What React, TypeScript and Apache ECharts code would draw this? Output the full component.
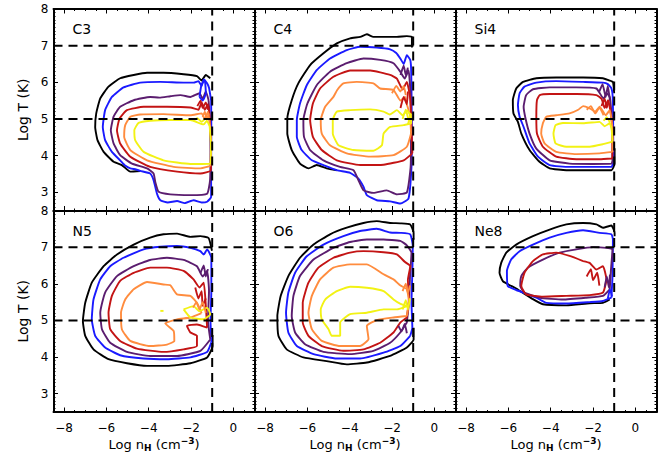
import React, { useEffect, useRef } from 'react';
import * as echarts from 'echarts';

// ---------- axes ----------
const X_MIN = -8.5;
const X_MAX = 1;
const Y_MIN = 2.5;
const Y_MAX = 8;
const xMajorTicks = [-8, -6, -4, -2, 0];
const yMajorTicks = [3, 4, 5, 6, 7, 8];
const dashedLogT = [5, 7];
const dashedLogN = [-1];

// contour level colours, outermost -> innermost
const levelColors = ['#000000', '#1a1aff', '#5b1d6f', '#c31414', '#ff8c3e', '#f2f214'];

// ---------- C3 ----------
const c3Black = [[-1.09,6.11],[-1.3,6.2],[-1.5,6.05],[-1.72,6.17],[-2.35,6.22],[-3.3,6.26],[-4.08,6.26],[-4.71,6.2],[-5.35,6.11],[-5.9,5.88],[-6.29,5.56],[-6.48,5.15],[-6.53,4.78],[-6.42,4.42],[-6.13,4.1],[-5.66,3.83],[-5.27,3.74],[-4.87,3.56],[-4.4,3.58]];
const c3Blue = [[-1.05,5.5],[-1.15,5.85],[-1.24,5.97],[-1.4,6.08],[-1.5,5.9],[-1.65,6.03],[-1.88,5.99],[-2.35,5.99],[-3.45,6.01],[-4.4,5.99],[-5.19,5.86],[-5.74,5.6],[-6.06,5.24],[-6.17,4.78],[-6.06,4.42],[-5.74,4.1],[-5.35,3.87],[-5.1,3.72],[-4.87,3.65],[-4.6,3.62],[-4.4,3.58],[-3.93,3.51],[-3.77,3.33],[-3.61,2.96],[-3.45,2.78],[-3.1,2.72],[-2.66,2.76],[-2.3,2.7],[-1.88,2.78],[-1.5,2.72],[-1.24,2.74],[-1.05,2.87],[-1.05,3.69],[-1.04,4.78],[-1.05,5.5]];
const c3Purple = [[-1.17,5.51],[-1.3,5.75],[-1.45,5.55],[-1.6,5.7],[-2.03,5.6],[-2.5,5.65],[-2.98,5.62],[-3.5,5.58],[-3.93,5.6],[-4.71,5.51],[-5.35,5.33],[-5.66,5.06],[-5.79,4.69],[-5.66,4.33],[-5.35,4.01],[-4.79,3.78],[-4.08,3.65],[-3.77,3.51],[-3.69,3.28],[-3.53,3.01],[-2.98,2.94],[-2.03,2.92],[-1.24,2.96],[-1.1,3.33],[-1.08,4.15],[-1.12,5.06],[-1.17,5.51]];
const c3Red = [[-1.12,5.06],[-1.2,5.4],[-1.35,5.25],[-1.5,5.45],[-1.65,5.25],[-2.03,5.31],[-3.14,5.33],[-4.24,5.33],[-5.03,5.24],[-5.38,5.01],[-5.5,4.69],[-5.35,4.33],[-4.87,3.97],[-3.93,3.69],[-2.66,3.56],[-1.56,3.51],[-1.06,3.6],[-1.06,4.42],[-1.12,5.06]];
const c3Orange = [[-1.12,4.9],[-1.2,5.2],[-1.35,5.0],[-1.5,5.15],[-2.03,5.1],[-3.3,5.13],[-4.4,5.12],[-4.87,5.06],[-5.11,4.83],[-5.16,4.51],[-4.87,4.15],[-4.08,3.87],[-2.82,3.69],[-1.56,3.65],[-1.08,3.74],[-1.06,4.42],[-1.12,4.9]];
const c3Yellow = [[-1.12,4.8],[-1.25,4.95],[-1.4,4.85],[-2.03,4.97],[-2.98,4.97],[-3.93,4.95],[-4.48,4.89],[-4.68,4.69],[-4.64,4.42],[-4.24,4.1],[-3.3,3.87],[-2.03,3.77],[-1.1,3.78],[-1.06,4.3],[-1.12,4.8]];
const c3NoiseBlue = [[-1.6,5.6],[-1.5,5.95],[-1.35,6.05],[-1.3,5.7],[-1.45,5.5],[-1.6,5.6]];
const c3NoiseRed = [[-1.7,5.35],[-1.55,5.5],[-1.45,5.3],[-1.3,5.45],[-1.2,5.25]];
const c3NoiseOrange = [[-1.45,5.05],[-1.35,5.2],[-1.25,5.0],[-1.15,5.15]];
const c3NoiseYellow = [[-1.9,4.95],[-1.7,5.02],[-1.5,4.92],[-1.35,5.0]];

// ---------- C4 ----------
const c4Black = [[-1.06,6.95],[-1.06,7.24],[-1.3,7.26],[-1.77,7.24],[-2.88,7.24],[-3.19,7.31],[-3.5,7.24],[-3.98,7.2],[-4.61,7.06],[-5.24,6.79],[-5.87,6.47],[-6.43,5.97],[-6.74,5.51],[-6.95,5.01],[-6.95,4.6],[-6.74,4.15],[-6.35,3.78],[-5.95,3.65],[-5.56,3.74],[-5.09,3.65],[-4.61,3.6]];
const c4Blue = [[-1.06,4.6],[-1.08,5.8],[-1.1,6.4],[-1.14,6.61],[-1.3,6.74],[-1.45,6.5],[-1.61,6.65],[-1.8,6.8],[-2.09,6.9],[-2.72,6.95],[-3.5,6.97],[-4.14,6.88],[-4.93,6.65],[-5.56,6.33],[-6.03,5.92],[-6.35,5.42],[-6.5,4.97],[-6.5,4.51],[-6.27,4.15],[-5.79,3.87],[-5.24,3.74],[-4.61,3.6],[-3.98,3.53],[-3.59,3.37],[-3.35,3.15],[-3.19,2.92],[-2.72,2.78],[-2.09,2.75],[-1.61,2.69],[-1.22,2.83],[-1.08,3.69],[-1.06,4.6]];
const c4Purple = [[-1.1,4.6],[-1.12,5.6],[-1.22,6.33],[-1.4,6.1],[-1.61,6.29],[-1.93,6.52],[-2.56,6.61],[-3.35,6.65],[-4.14,6.52],[-4.93,6.29],[-5.56,5.92],[-6.0,5.42],[-6.19,4.97],[-6.16,4.51],[-5.87,4.15],[-5.24,3.87],[-4.46,3.69],[-3.82,3.6],[-3.59,3.33],[-3.35,3.05],[-2.88,2.98],[-2.25,3.05],[-1.77,2.94],[-1.3,2.99],[-1.12,3.69],[-1.1,4.6]];
const c4Red = [[-1.04,4.06],[-1.08,4.8],[-1.15,5.6],[-1.3,6.01],[-1.5,5.8],[-1.77,6.1],[-2.09,6.2],[-3.03,6.32],[-3.98,6.32],[-4.77,6.15],[-5.4,5.83],[-5.74,5.42],[-5.87,4.97],[-5.74,4.51],[-5.32,4.15],[-4.61,3.87],[-3.5,3.74],[-2.4,3.75],[-1.45,3.87],[-1.04,4.06]];
const c4Orange = [[-1.1,4.6],[-1.15,5.1],[-1.3,5.4],[-1.38,5.6],[-1.6,5.5],[-1.93,5.79],[-2.56,5.83],[-2.88,5.97],[-3.67,6.01],[-4.3,5.97],[-4.59,5.79],[-4.77,5.6],[-5.16,5.33],[-5.37,4.97],[-5.32,4.6],[-4.93,4.28],[-4.14,4.06],[-3.03,3.97],[-1.93,4.01],[-1.3,4.24],[-1.1,4.6]];
const c4Yellow = [[-1.3,5.24],[-1.5,5.1],[-1.77,5.24],[-2.1,5.12],[-2.4,5.2],[-3.03,5.26],[-3.98,5.24],[-4.61,5.2],[-4.8,4.97],[-4.8,4.6],[-4.53,4.28],[-3.82,4.15],[-2.88,4.13],[-2.48,4.28],[-2.4,4.6],[-2.09,4.78],[-1.45,4.83],[-1.1,4.88],[-1.12,5.1],[-1.3,5.24]];
const c4NoisePurple = [[-1.6,6.2],[-1.45,6.45],[-1.35,6.2],[-1.25,6.4]];
const c4NoiseRed = [[-1.6,5.3],[-1.45,5.6],[-1.3,5.4],[-1.25,5.75]];
const c4NoiseOrange = [[-2.0,5.7],[-1.8,5.9],[-1.6,5.75],[-1.45,5.9],[-1.35,5.65]];
const c4NoiseYellow = [[-1.5,5.0],[-1.35,5.25],[-1.2,4.95],[-1.1,5.15],[-1.25,4.85]];

// ---------- Si4 ----------
const si4Black = [[-1.0,5.7],[-1.06,6.01],[-1.25,6.05],[-1.53,6.11],[-2.47,6.13],[-3.74,6.13],[-4.68,6.11],[-5.31,6.01],[-5.63,5.83],[-5.79,5.51],[-5.76,5.15],[-5.55,4.92],[-5.39,4.6],[-5.0,4.15],[-4.53,3.83],[-4.05,3.65],[-3.26,3.6],[-2.16,3.6],[-1.13,3.6],[-0.98,3.78],[-0.98,4.2]];
const si4Blue = [[-1.04,3.8],[-1.05,5.0],[-1.07,5.6],[-1.13,5.83],[-1.3,5.95],[-1.53,5.99],[-2.47,6.01],[-3.74,6.03],[-4.68,5.99],[-5.24,5.88],[-5.47,5.7],[-5.55,5.38],[-5.47,5.06],[-5.28,4.78],[-5.0,4.33],[-4.6,3.97],[-4.05,3.74],[-3.11,3.69],[-2.0,3.69],[-1.13,3.69],[-1.04,3.8]];
const si4Purple = [[-1.08,3.85],[-1.08,4.6],[-1.15,5.3],[-1.21,5.6],[-1.35,5.7],[-1.5,5.55],[-1.84,5.83],[-2.79,5.86],[-4.05,5.86],[-4.84,5.81],[-5.16,5.65],[-5.28,5.33],[-5.19,5.01],[-5.0,4.6],[-4.68,4.19],[-4.05,3.87],[-3.11,3.78],[-2.0,3.77],[-1.13,3.78],[-1.08,3.85]];
const si4Red = [[-1.09,3.92],[-1.08,4.6],[-1.15,5.1],[-1.29,5.51],[-1.45,5.3],[-1.6,5.55],[-1.84,5.65],[-2.79,5.68],[-4.05,5.68],[-4.52,5.65],[-4.65,5.51],[-4.68,5.06],[-4.65,4.6],[-4.37,4.24],[-3.74,3.97],[-2.79,3.9],[-1.69,3.9],[-1.09,3.92]];
const si4Orange = [[-1.08,4.1],[-1.08,4.7],[-1.21,5.24],[-1.4,5.1],[-1.69,5.33],[-1.9,5.2],[-2.16,5.29],[-2.47,5.35],[-2.7,5.25],[-3.11,5.15],[-3.74,5.1],[-4.21,5.06],[-4.37,4.88],[-4.45,4.6],[-4.29,4.33],[-3.74,4.1],[-2.79,4.04],[-1.69,4.06],[-1.08,4.1]];
const si4Yellow = [[-1.08,4.38],[-1.12,4.7],[-1.21,4.88],[-1.45,4.8],[-1.69,4.92],[-2.47,4.88],[-3.42,4.89],[-3.77,4.83],[-3.87,4.6],[-3.77,4.33],[-3.26,4.24],[-2.16,4.24],[-1.53,4.31],[-1.08,4.38]];
const si4NoisePurple = [[-1.7,5.75],[-1.55,5.95],[-1.4,5.6],[-1.3,5.9],[-1.2,5.5]];
const si4NoiseRed = [[-1.6,5.35],[-1.45,5.55],[-1.35,5.3],[-1.25,5.5]];
const si4NoiseOrange = [[-2.3,5.25],[-2.1,5.35],[-1.9,5.15],[-1.7,5.3],[-1.5,5.1]];
const si4NoiseYellow = [[-1.5,4.95],[-1.35,5.05],[-1.2,4.9]];

// ---------- N5 ----------
const n5Black = [[-1.01,6.9],[-1.17,7.25],[-1.56,7.3],[-2.03,7.28],[-2.66,7.37],[-3.3,7.35],[-3.93,7.26],[-4.71,7.07],[-5.5,6.8],[-6.13,6.48],[-6.69,6.03],[-7.0,5.48],[-7.11,4.98],[-7.0,4.58],[-6.61,4.21],[-5.9,3.94],[-5.03,3.83],[-4.08,3.76],[-3.14,3.76],[-2.03,3.83],[-1.24,3.99],[-0.98,4.3],[-0.98,4.6]];
const n5Blue = [[-1.04,4.4],[-1.08,5.0],[-1.04,5.8],[-1.04,6.71],[-1.24,6.94],[-1.4,6.8],[-1.56,6.89],[-2.03,6.98],[-2.66,7.03],[-3.45,7.01],[-4.24,6.94],[-5.19,6.71],[-5.82,6.48],[-6.29,6.12],[-6.61,5.57],[-6.69,5.03],[-6.53,4.58],[-6.06,4.26],[-5.35,4.05],[-4.24,3.96],[-3.14,3.94],[-2.03,3.99],[-1.24,4.14],[-1.04,4.4]];
const n5Purple = [[-1.09,4.48],[-1.2,5.0],[-1.15,5.8],[-1.24,6.35],[-1.45,6.2],[-1.72,6.48],[-2.35,6.65],[-3.14,6.71],[-3.93,6.65],[-4.71,6.48],[-5.5,6.21],[-6.06,5.76],[-6.29,5.21],[-6.21,4.76],[-5.82,4.39],[-5.03,4.14],[-3.93,4.03],[-2.66,4.03],[-1.56,4.17],[-1.09,4.48]];
const n5Red = [[-1.24,4.8],[-1.3,5.4],[-1.4,6.03],[-1.6,5.9],[-1.88,6.12],[-2.35,6.35],[-3.14,6.44],[-3.93,6.44],[-4.71,6.3],[-5.35,6.08],[-5.74,5.67],[-5.9,5.21],[-5.82,4.76],[-5.35,4.44],[-4.56,4.23],[-3.3,4.14],[-2.35,4.21],[-1.72,4.3],[-1.72,4.58],[-2.03,4.67],[-2.19,4.85],[-1.72,4.89],[-1.24,4.8]];
const n5Orange = [[-1.5,5.2],[-1.72,5.48],[-2.03,5.67],[-2.66,5.71],[-2.98,5.96],[-3.3,5.98],[-4.08,6.05],[-4.71,5.85],[-5.11,5.57],[-5.31,5.21],[-5.27,4.76],[-4.87,4.44],[-3.93,4.3],[-3.14,4.34],[-2.79,4.44],[-2.82,4.71],[-3.22,4.92],[-2.66,5.03],[-2.03,5.08],[-1.5,5.2]];
const n5YellowA = [[-2.35,5.3],[-1.88,5.39],[-1.6,5.25],[-1.24,5.35],[-1.09,5.17],[-1.4,5.03],[-2.03,5.08],[-2.35,5.3]];
const n5YellowB = [[-3.45,5.26],[-3.3,5.26]];
const n5NoisePurple = [[-1.55,6.3],[-1.4,6.5],[-1.3,6.2],[-1.2,6.4]];
const n5NoiseRed = [[-1.8,5.9],[-1.65,5.6],[-1.5,5.8],[-1.45,5.4],[-1.3,5.6]];
const n5NoiseOrange = [[-1.9,5.35],[-1.75,5.5],[-1.6,5.3],[-1.45,5.5],[-1.3,5.2]];

// ---------- O6 ----------
const o6Black = [[-0.98,7.2],[-0.98,7.39],[-1.14,7.62],[-1.61,7.65],[-2.09,7.66],[-2.72,7.71],[-3.35,7.66],[-4.14,7.53],[-4.93,7.35],[-5.71,7.07],[-6.35,6.71],[-6.9,6.21],[-7.26,5.67],[-7.42,5.12],[-7.37,4.58],[-6.98,4.21],[-6.19,3.99],[-5.09,3.89],[-4.14,3.8],[-3.19,3.85],[-2.09,4.03],[-1.3,4.26],[-0.98,4.48],[-0.98,4.8]];
const o6Blue = [[-1.14,4.58],[-1.04,4.8],[-1.08,5.5],[-1.04,6.3],[-1.02,7.03],[-1.14,7.35],[-1.61,7.39],[-2.09,7.4],[-2.72,7.5],[-3.51,7.44],[-4.3,7.3],[-5.24,7.07],[-6.03,6.75],[-6.58,6.3],[-6.9,5.76],[-7.01,5.21],[-6.9,4.67],[-6.5,4.3],[-5.71,4.08],[-4.61,3.96],[-3.51,3.96],[-2.4,4.12],[-1.61,4.3],[-1.14,4.58]];
const o6Purple = [[-1.3,4.94],[-1.2,5.5],[-1.15,6.2],[-1.08,6.85],[-1.3,7.05],[-1.61,7.17],[-2.4,7.21],[-3.19,7.21],[-3.98,7.14],[-4.77,6.98],[-5.71,6.66],[-6.35,6.21],[-6.66,5.67],[-6.74,5.12],[-6.58,4.67],[-6.11,4.35],[-5.24,4.14],[-3.98,4.08],[-2.88,4.17],[-2.09,4.39],[-1.61,4.67],[-1.3,4.94]];
const o6Red = [[-1.3,5.08],[-1.2,5.6],[-1.25,6.1],[-1.14,6.48],[-1.4,6.6],[-1.77,6.8],[-2.4,6.86],[-3.35,6.89],[-3.98,6.85],[-4.77,6.71],[-5.48,6.44],[-5.95,6.03],[-6.22,5.48],[-6.22,4.94],[-5.95,4.58],[-5.32,4.3],[-4.3,4.17],[-3.35,4.21],[-2.56,4.39],[-1.93,4.67],[-1.61,4.94],[-1.3,5.08]];
const o6Orange = [[-1.3,5.12],[-1.2,5.5],[-1.3,5.85],[-1.6,5.95],[-1.93,6.12],[-2.4,6.26],[-3.19,6.53],[-3.98,6.53],[-4.77,6.44],[-5.4,6.12],[-5.79,5.67],[-5.95,5.21],[-5.79,4.76],[-5.32,4.44],[-4.45,4.3],[-3.51,4.3],[-3.11,4.49],[-3.19,4.85],[-2.72,5.01],[-1.93,5.08],[-1.3,5.12]];
const o6Yellow = [[-1.3,5.39],[-1.6,5.45],[-1.93,5.57],[-2.4,5.8],[-3.19,5.89],[-3.98,5.92],[-4.61,5.8],[-5.16,5.57],[-5.37,5.3],[-5.32,5.03],[-5.0,4.76],[-4.85,4.58],[-4.45,4.58],[-4.45,4.94],[-3.98,5.17],[-3.19,5.21],[-2.4,5.3],[-1.77,5.3],[-1.3,5.39]];
const o6NoisePurple = [[-1.7,4.85],[-1.55,4.7],[-1.4,4.9],[-1.3,4.65]];
const o6NoiseOrange = [[-1.5,5.8],[-1.35,6.0],[-1.25,5.75],[-1.15,5.95]];
const o6NoiseYellow = [[-1.5,5.3],[-1.35,5.55],[-1.25,5.3],[-1.15,5.6]];

// ---------- Ne8 ----------
const ne8Black = [[-0.98,7.3],[-0.98,7.39],[-1.13,7.59],[-1.53,7.53],[-1.84,7.62],[-2.47,7.66],[-3.26,7.62],[-4.05,7.48],[-4.84,7.3],[-5.63,7.07],[-6.1,6.85],[-6.34,6.57],[-6.42,6.3],[-6.26,6.07],[-5.63,5.87],[-4.84,5.58],[-4.37,5.44],[-3.26,5.41],[-2.16,5.47],[-1.53,5.48],[-1.21,5.57]];
const ne8Blue = [[-1.13,5.62],[-1.08,6.2],[-1.06,7.21],[-1.13,7.35],[-1.69,7.39],[-2.47,7.46],[-3.26,7.39],[-4.05,7.26],[-4.84,7.07],[-5.47,6.89],[-5.87,6.66],[-6.07,6.35],[-6.03,5.94],[-5.63,5.83],[-4.68,5.62],[-4.21,5.48],[-3.26,5.46],[-2.16,5.5],[-1.53,5.53],[-1.13,5.62]];
const ne8Purple = [[-1.21,5.85],[-1.15,6.4],[-1.08,6.94],[-1.37,6.98],[-2.0,7.0],[-2.79,6.94],[-3.58,6.85],[-4.37,6.66],[-5.08,6.44],[-5.39,6.21],[-5.44,5.94],[-5.24,5.76],[-4.52,5.62],[-3.42,5.57],[-2.32,5.62],[-1.53,5.67],[-1.21,5.85]];
const ne8Red = [[-2.47,6.62],[-3.11,6.76],[-3.74,6.85],[-4.37,6.8],[-4.84,6.62],[-5.24,6.3],[-5.39,5.94],[-5.16,5.71],[-4.37,5.65],[-3.26,5.67],[-2.16,5.69],[-1.53,5.76],[-1.37,6.12],[-1.53,6.48],[-1.84,6.39],[-2.16,6.57],[-2.47,6.62]];
const ne8NoiseBlue = [[-1.3,5.6],[-1.2,5.85],[-1.1,5.65]];
const ne8NoisePurple = [[-1.45,5.9],[-1.35,6.2],[-1.25,5.9],[-1.2,6.25]];
const ne8NoiseRed = [[-2.3,6.2],[-2.1,6.4],[-2.0,6.1],[-1.8,6.3],[-1.7,5.95]];

const panelNames = ['C3', 'C4', 'Si4', 'N5', 'O6', 'Ne8'];
// [contour, colour level index]
const panelContours: [number[][], number][][] = [
  [[c3Black, 0], [c3Blue, 1], [c3Purple, 2], [c3Red, 3], [c3Orange, 4], [c3Yellow, 5],
   [c3NoiseBlue, 1], [c3NoiseRed, 3], [c3NoiseOrange, 4], [c3NoiseYellow, 5]],
  [[c4Black, 0], [c4Blue, 1], [c4Purple, 2], [c4Red, 3], [c4Orange, 4], [c4Yellow, 5],
   [c4NoisePurple, 2], [c4NoiseRed, 3], [c4NoiseOrange, 4], [c4NoiseYellow, 5]],
  [[si4Black, 0], [si4Blue, 1], [si4Purple, 2], [si4Red, 3], [si4Orange, 4], [si4Yellow, 5],
   [si4NoisePurple, 2], [si4NoiseRed, 3], [si4NoiseOrange, 4], [si4NoiseYellow, 5]],
  [[n5Black, 0], [n5Blue, 1], [n5Purple, 2], [n5Red, 3], [n5Orange, 4], [n5YellowA, 5], [n5YellowB, 5],
   [n5NoisePurple, 2], [n5NoiseRed, 3], [n5NoiseOrange, 4]],
  [[o6Black, 0], [o6Blue, 1], [o6Purple, 2], [o6Red, 3], [o6Orange, 4], [o6Yellow, 5],
   [o6NoisePurple, 2], [o6NoiseOrange, 4], [o6NoiseYellow, 5]],
  [[ne8Black, 0], [ne8Blue, 1], [ne8Purple, 2], [ne8Red, 3],
   [ne8NoiseBlue, 1], [ne8NoisePurple, 2], [ne8NoiseRed, 3]],
];

const FONT = 'DejaVu Sans, Verdana, sans-serif';
const colLefts = [53.5, 254.5, 455.5];
const rowTops = [9, 210.5];
const PW = 201;
const PH = 201.5;

const fmtX = (v: number) => (v < 0 ? '\u2212' + Math.abs(v) : String(v));

function buildOption() {
  const grid: any[] = [];
  const xAxis: any[] = [];
  const yAxis: any[] = [];
  const series: any[] = [];
  const graphic: any[] = [];
  const lineBlack = { color: '#000', width: 1 };

  for (let p = 0; p < 6; p++) {
    const row = Math.floor(p / 3);
    const col = p % 3;
    grid.push({
      left: colLefts[col], top: rowTops[row], width: PW, height: PH,
      containLabel: false, outerBoundsMode: 'none', show: false,
    });
    const bottomRow = row === 1;
    const leftCol = col === 0;
    const xb = {
      type: 'value', gridIndex: p, min: X_MIN, max: X_MAX,
      splitLine: { show: false }, axisLabel: { show: false },
    };
    xAxis.push({
      ...xb, position: 'bottom', interval: 0.5,
      axisLine: { show: true, onZero: false, lineStyle: { color: '#000', width: 2 } },
      axisTick: { show: true, inside: true, length: 2, lineStyle: lineBlack },
    });
    xAxis.push({
      ...xb, position: 'bottom',
      axisLine: { show: false, onZero: false },
      axisTick: { show: true, inside: true, length: 4.5, customValues: xMajorTicks, lineStyle: lineBlack },
      axisLabel: {
        show: bottomRow, customValues: xMajorTicks, formatter: fmtX, margin: 10,
        fontSize: 12, color: '#000', fontFamily: FONT,
      },
      name: bottomRow ? 'Log n{sub|H} (cm{sup|\u22123})' : '',
      nameLocation: 'middle', nameGap: 24, nameMoveOverlap: false,
      nameTextStyle: {
        fontSize: 13, color: '#000', fontFamily: FONT, lineHeight: 16,
        rich: {
          sub: { fontSize: 9, fontWeight: 'bold', color: '#000', fontFamily: FONT, lineHeight: 10, verticalAlign: 'bottom' },
          sup: { fontSize: 9, fontWeight: 'bold', color: '#000', fontFamily: FONT, lineHeight: 10, verticalAlign: 'top' },
        },
      },
    });
    xAxis.push({
      ...xb, position: 'top', interval: 0.5,
      axisLine: { show: true, onZero: false, lineStyle: { color: '#000', width: 2 } },
      axisTick: { show: true, inside: true, length: 2, lineStyle: lineBlack },
    });
    xAxis.push({
      ...xb, position: 'top',
      axisLine: { show: false, onZero: false },
      axisTick: { show: true, inside: true, length: 4.5, customValues: xMajorTicks, lineStyle: lineBlack },
    });

    const yb = {
      type: 'value', gridIndex: p, min: Y_MIN, max: Y_MAX,
      splitLine: { show: false }, axisLabel: { show: false },
    };
    yAxis.push({
      ...yb, position: 'left', interval: 0.1,
      axisLine: { show: true, onZero: false, lineStyle: { color: '#000', width: 2 } },
      axisTick: { show: true, inside: true, length: 2, lineStyle: lineBlack },
    });
    yAxis.push({
      ...yb, position: 'left',
      axisLine: { show: false, onZero: false },
      axisTick: { show: true, inside: true, length: 4.5, customValues: yMajorTicks, lineStyle: lineBlack },
      axisLabel: {
        show: leftCol, customValues: yMajorTicks, margin: 5,
        fontSize: 12, color: '#000', fontFamily: FONT,
      },
      name: leftCol ? 'Log T (K)' : '',
      nameLocation: 'middle', nameGap: 24, nameRotate: 90, nameMoveOverlap: false,
      nameTextStyle: { fontSize: 14, color: '#000', fontFamily: FONT },
    });
    yAxis.push({
      ...yb, position: 'right', interval: 0.1,
      axisLine: { show: true, onZero: false, lineStyle: { color: '#000', width: 2 } },
      axisTick: { show: true, inside: true, length: 2, lineStyle: lineBlack },
    });
    yAxis.push({
      ...yb, position: 'right',
      axisLine: { show: false, onZero: false },
      axisTick: { show: true, inside: true, length: 4.5, customValues: yMajorTicks, lineStyle: lineBlack },
    });

    const xi = p * 4;
    const yi = p * 4;
    for (const [data, lvl] of panelContours[p]) {
      series.push({
        type: 'line', xAxisIndex: xi, yAxisIndex: yi, data,
        symbol: 'none', showSymbol: false, smooth: 0.15, silent: true, z: 2,
        lineStyle: { color: levelColors[lvl], width: 1.9 },
      });
    }
    for (const t of dashedLogT) {
      series.push({
        type: 'line', xAxisIndex: xi, yAxisIndex: yi, data: [[X_MIN, t], [X_MAX, t]],
        symbol: 'none', silent: true, z: 3,
        lineStyle: { color: '#000', width: 2, type: [9, 6] },
      });
    }
    for (const n of dashedLogN) {
      series.push({
        type: 'line', xAxisIndex: xi, yAxisIndex: yi, data: [[n, Y_MIN], [n, Y_MAX]],
        symbol: 'none', silent: true, z: 3,
        lineStyle: { color: '#000', width: 2, type: [9, 6] },
      });
    }

    graphic.push({
      type: 'text', left: colLefts[col] + 19, top: rowTops[row] + 13,
      style: { text: panelNames[p], fontSize: 14, fill: '#000', fontFamily: FONT },
    });
  }

  return {
    animation: false,
    backgroundColor: '#ffffff',
    textStyle: { fontFamily: FONT },
    grid, xAxis, yAxis, series, graphic,
  };
}

export default function App() {
  const ref = useRef<HTMLDivElement>(null);
  useEffect(() => {
    document.body.style.margin = '0';
    const chart = echarts.init(ref.current!, null, { renderer: 'svg' });
    chart.setOption(buildOption() as any);
    return () => chart.dispose();
  }, []);
  return <div ref={ref} style={{ width: 664, height: 459, background: '#fff' }} />;
}
